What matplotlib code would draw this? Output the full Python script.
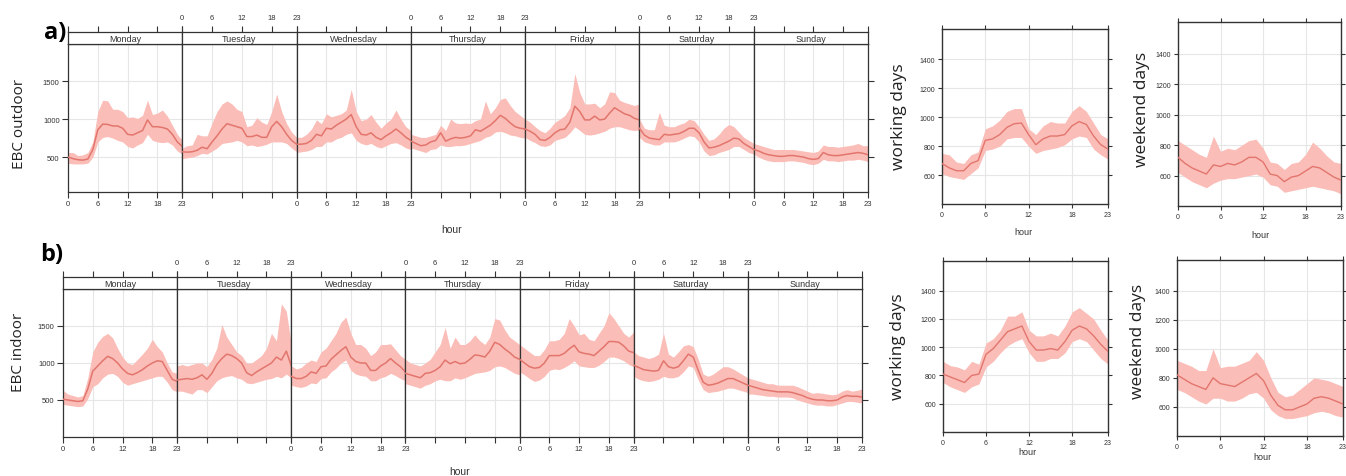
import numpy as np
import matplotlib
matplotlib.use("Agg")
import matplotlib.pyplot as plt

W, H = 1346, 477

DAYS = ["Monday", "Tuesday", "Wednesday", "Thursday", "Friday", "Saturday", "Sunday"]
HOURS = list(range(24))
HOUR_TICKS = [0, 6, 12, 18, 23]

# ---- a) EBC outdoor, week (mean / lower / upper, one row per day)
out_week_mean = [
    [500, 480, 465, 460, 475, 600, 860, 935, 930, 910, 910, 880, 800, 790, 820, 850, 990, 900, 900, 890, 870, 800, 700, 640],
    [570, 565, 570, 590, 630, 610, 700, 780, 870, 940, 920, 900, 880, 770, 770, 790, 760, 760, 900, 970, 900, 800, 720, 670],
    [670, 670, 680, 720, 800, 780, 880, 870, 920, 960, 1000, 1060, 900, 800, 790, 820, 760, 730, 780, 820, 870, 820, 760, 720],
    [710, 680, 650, 660, 700, 720, 820, 710, 740, 760, 750, 760, 780, 860, 840, 880, 920, 980, 1050, 1010, 950, 900, 880, 870],
    [870, 840, 800, 730, 720, 760, 820, 860, 870, 960, 1170, 1100, 990, 990, 1040, 990, 1000, 1080, 1150, 1110, 1070, 1050, 1010, 990],
    [880, 790, 750, 740, 730, 800, 790, 800, 810, 840, 880, 880, 820, 700, 620, 630, 650, 680, 710, 750, 740, 680, 640, 600],
    [600, 580, 550, 530, 520, 510, 510, 520, 520, 510, 500, 480, 470, 480, 560, 530, 520, 520, 530, 540, 550, 560, 550, 530],
]
out_week_lo = [
    [420, 410, 410, 410, 420, 500, 700, 760, 770, 750, 720, 700, 640, 620, 660, 690, 800, 720, 700, 690, 700, 660, 580, 540],
    [480, 490, 500, 520, 550, 540, 580, 620, 680, 690, 700, 720, 700, 650, 660, 640, 650, 670, 700, 700, 700, 680, 620, 570],
    [560, 570, 580, 600, 640, 640, 700, 700, 740, 760, 800, 820, 720, 680, 660, 680, 640, 620, 650, 680, 690, 660, 620, 600],
    [620, 600, 580, 560, 600, 610, 660, 640, 640, 650, 650, 660, 680, 700, 720, 760, 780, 830, 840, 820, 790, 780, 760, 750],
    [760, 720, 690, 650, 640, 660, 720, 740, 760, 820, 900, 850, 800, 790, 800, 820, 840, 880, 900, 900, 880, 860, 850, 860],
    [760, 700, 680, 660, 660, 700, 700, 700, 720, 750, 780, 770, 700, 580, 520, 530, 560, 580, 600, 640, 640, 600, 560, 540],
    [540, 500, 470, 450, 440, 440, 440, 450, 450, 440, 430, 410, 400, 420, 470, 450, 450, 440, 450, 460, 460, 470, 460, 440],
]
out_week_hi = [
    [560, 560, 520, 530, 560, 700, 1100, 1250, 1240, 1130, 1130, 1100, 1020, 1030, 1010, 1050, 1250, 1060, 1080, 1120, 1040, 920, 800, 720],
    [620, 650, 660, 800, 780, 780, 950, 1100, 1200, 1240, 1200, 1130, 1100, 900, 920, 1020, 960, 930, 1100, 1330, 1100, 940, 830, 760],
    [760, 760, 800, 870, 990, 940, 1070, 1030, 1050, 1070, 1120, 1390, 1100, 980, 1000, 1060, 960, 880, 950, 1000, 1120, 1000, 900, 850],
    [800, 780, 760, 760, 780, 800, 920, 850, 1000, 950, 940, 950, 940, 980, 1000, 1240, 1070, 1150, 1260, 1280, 1180, 1100, 1050, 1000],
    [1000, 960, 900, 850, 820, 880, 960, 1000, 1050, 1150, 1600, 1350, 1200, 1200, 1210, 1150, 1200, 1360, 1350, 1250, 1220, 1200, 1180, 1200],
    [1000, 880, 860, 860, 1090, 920, 900, 900, 930, 950, 1000, 980, 900, 800, 720, 740, 800, 880, 930, 900, 830, 760, 720, 680],
    [680, 660, 640, 620, 600, 600, 600, 600, 600, 590, 580, 570, 560, 580, 660, 640, 640, 630, 640, 650, 660, 680, 650, 650],
]

# ---- b) EBC indoor, week
in_week_mean = [
    [510, 500, 490, 480, 490, 650, 890, 960, 1030, 1090, 1060, 1000, 920, 860, 840, 870, 910, 960, 1000, 1030, 1020, 900, 780, 750],
    [770, 780, 790, 780, 800, 840, 780, 860, 980, 1060, 1120, 1100, 1060, 1000, 870, 830, 880, 920, 960, 1000, 1080, 1040, 1160, 960],
    [820, 790, 790, 820, 880, 860, 950, 960, 1050, 1110, 1170, 1220, 1080, 1020, 1000, 1000, 900, 900, 960, 1000, 1060, 1000, 950, 880],
    [860, 840, 820, 800, 860, 870, 900, 950, 1040, 990, 1020, 990, 1000, 1050, 1110, 1100, 1080, 1160, 1280, 1250, 1190, 1140, 1080, 1050],
    [1050, 1000, 950, 930, 940, 1000, 1100, 1100, 1100, 1130, 1190, 1240, 1150, 1130, 1120, 1100, 1160, 1220, 1290, 1290, 1280, 1230, 1160, 1140],
    [970, 940, 910, 900, 890, 900, 1030, 950, 930, 950, 1030, 1120, 1080, 900, 740, 700, 710, 730, 760, 790, 790, 760, 730, 700],
    [700, 680, 660, 640, 630, 620, 610, 610, 610, 600, 580, 560, 530, 510, 500, 500, 490, 490, 500, 540, 560, 550, 550, 540],
]
in_week_lo = [
    [440, 430, 420, 410, 420, 520, 680, 720, 800, 850, 860, 820, 740, 700, 720, 740, 760, 780, 800, 820, 820, 740, 640, 610],
    [620, 620, 600, 580, 640, 640, 600, 680, 760, 800, 820, 830, 800, 780, 730, 720, 740, 760, 780, 790, 820, 800, 850, 800],
    [700, 680, 670, 690, 730, 720, 790, 800, 880, 930, 1000, 1040, 900, 850, 830, 820, 760, 760, 800, 820, 860, 830, 790, 760],
    [720, 700, 680, 660, 700, 720, 760, 780, 760, 760, 800, 780, 800, 830, 860, 870, 880, 900, 950, 960, 940, 900, 860, 840],
    [880, 840, 790, 750, 770, 820, 900, 920, 910, 940, 980, 1030, 960, 950, 940, 940, 970, 1020, 1080, 1080, 1060, 1030, 980, 950],
    [820, 780, 760, 750, 760, 780, 820, 800, 800, 820, 880, 960, 940, 770, 640, 600, 610, 620, 640, 660, 660, 640, 620, 600],
    [580, 580, 570, 560, 550, 550, 540, 540, 540, 530, 500, 480, 460, 440, 430, 430, 420, 420, 440, 460, 480, 480, 470, 460],
]
in_week_hi = [
    [630, 580, 560, 540, 560, 800, 1150, 1280, 1360, 1400, 1340, 1200, 1080, 1000, 980, 1050, 1120, 1200, 1320, 1220, 1150, 1000, 880, 860],
    [960, 980, 960, 980, 1000, 1000, 950, 1050, 1200, 1520, 1350, 1250, 1150, 1100, 1000, 1000, 1050, 1100, 1200, 1400, 1300, 1800, 1700, 1250],
    [960, 920, 940, 1000, 1040, 1020, 1150, 1200, 1300, 1400, 1550, 1620, 1400, 1250, 1250, 1200, 1100, 1150, 1250, 1250, 1260, 1180, 1100, 1050],
    [1050, 1000, 980, 960, 1000, 1050, 1150, 1250, 1480, 1200, 1350, 1250, 1250, 1300, 1380, 1300, 1250, 1350, 1600, 1580, 1450, 1350, 1300, 1250],
    [1250, 1200, 1150, 1100, 1100, 1180, 1300, 1300, 1320, 1400, 1600, 1500, 1380, 1400, 1320, 1300, 1400, 1500, 1680, 1600, 1500, 1400, 1350, 1420],
    [1150, 1100, 1080, 1060, 1080, 1120, 1400, 1120, 1080, 1150, 1230, 1250, 1220, 1050, 850, 820, 850, 900, 950, 950, 920, 880, 840, 800],
    [800, 780, 760, 740, 720, 720, 700, 700, 700, 700, 680, 650, 620, 590, 600, 590, 580, 570, 580, 620, 640, 620, 630, 650],
]

# ---- working / weekend days (hourly)
out_work_mean = [680, 650, 630, 630, 680, 700, 840, 850, 880, 930, 955, 960, 880, 810, 850, 870, 870, 880, 940, 970, 950, 870, 810, 780]
out_work_lo = [610, 590, 580, 570, 610, 650, 770, 780, 800, 850, 860, 860, 800, 750, 770, 780, 790, 810, 850, 870, 860, 780, 740, 710]
out_work_hi = [750, 740, 690, 680, 740, 760, 920, 940, 980, 1040, 1060, 1060, 920, 880, 940, 970, 960, 960, 1040, 1080, 1040, 960, 880, 850]
out_wend_mean = [720, 680, 650, 630, 610, 670, 660, 680, 670, 690, 720, 720, 690, 610, 600, 560, 590, 600, 630, 660, 650, 620, 590, 570]
out_wend_lo = [620, 590, 560, 540, 520, 550, 570, 580, 580, 590, 600, 610, 590, 540, 530, 490, 500, 510, 520, 530, 520, 510, 500, 480]
out_wend_hi = [830, 800, 770, 740, 720, 860, 760, 780, 770, 800, 830, 840, 780, 690, 680, 640, 680, 690, 740, 820, 780, 730, 690, 680]

in_work_mean = [810, 790, 770, 750, 800, 810, 950, 990, 1050, 1110, 1130, 1150, 1040, 980, 980, 990, 980, 1040, 1120, 1150, 1130, 1080, 1020, 970]
in_work_lo = [750, 720, 700, 680, 720, 740, 860, 900, 960, 1010, 1040, 1060, 960, 900, 900, 920, 920, 960, 1040, 1060, 1040, 980, 920, 880]
in_work_hi = [900, 870, 860, 840, 900, 880, 1030, 1060, 1120, 1220, 1220, 1250, 1120, 1080, 1080, 1100, 1080, 1150, 1250, 1280, 1240, 1200, 1120, 1050]
in_wend_mean = [820, 790, 760, 740, 720, 800, 760, 750, 740, 770, 800, 830, 780, 680, 610, 580, 580, 600, 620, 660, 670, 660, 640, 620]
in_wend_lo = [720, 700, 670, 640, 620, 660, 660, 640, 640, 660, 690, 700, 660, 580, 540, 520, 520, 530, 540, 560, 570, 560, 540, 530]
in_wend_hi = [920, 900, 880, 850, 850, 1000, 870, 880, 880, 900, 920, 980, 920, 800, 700, 670, 680, 720, 760, 800, 790, 780, 760, 740]

FILL = "#FBBDB7"
LINE = "#E2766E"
GRID = "#E6E6E6"
SPINE = "#333333"
TXT = "#333333"
TICKFONT = "Liberation Sans"
LABFONT = "Open Sans"


def box(x0, y0, x1, y1):
    # pixel box (top-left origin) -> figure fraction rect
    return [x0 / W, 1 - y1 / H, (x1 - x0) / W, (y1 - y0) / H]


def style_spines(ax, lw=0.9):
    for s in ax.spines.values():
        s.set_color(SPINE)
        s.set_linewidth(lw)


def draw_week(fig, x0, x1, y_strip, y_top, y_bot, mean, lo, hi, ylim):
    dw = (x1 - x0) / 7
    for i, day in enumerate(DAYS):
        ax = fig.add_axes(box(x0 + i * dw, y_top, x0 + (i + 1) * dw, y_bot))
        ax.fill_between(HOURS, lo[i], hi[i], color=FILL, lw=0, zorder=2)
        ax.plot(HOURS, mean[i], color=LINE, lw=1.1, zorder=3)
        ax.set_xlim(0, 23)
        ax.set_ylim(*ylim)
        ax.set_xticks(HOUR_TICKS)
        ax.set_yticks([500, 1000, 1500])
        ax.grid(color=GRID, lw=0.8, zorder=0)
        ax.set_axisbelow(True)
        style_spines(ax)
        ax.tick_params(direction="out", length=4, width=0.8, color=SPINE,
                       labelsize=5.5, labelcolor=TXT, pad=2,
                       left=(i == 0), labelleft=(i == 0),
                       right=(i == 6), labelright=False,
                       labelbottom=(i % 2 == 0))
        for t in ax.get_xticklabels() + ax.get_yticklabels():
            t.set_family(TICKFONT)

        sax = fig.add_axes(box(x0 + i * dw, y_strip, x0 + (i + 1) * dw, y_top))
        sax.set_xlim(0, 23)
        sax.set_ylim(0, 1)
        sax.set_yticks([])
        sax.set_xticks(HOUR_TICKS)
        sax.xaxis.tick_top()
        sax.tick_params(direction="out", length=4, width=0.8, color=SPINE,
                        labelsize=5.5, labelcolor=TXT, pad=4,
                        labeltop=(i % 2 == 1), bottom=False, labelbottom=False)
        for t in sax.get_xticklabels():
            t.set_family(TICKFONT)
        style_spines(sax)
        sax.text(11.5, 0.45, day, ha="center", va="center", fontsize=6.5,
                 family=TICKFONT, color=TXT)


def draw_small(fig, rect, mean, lo, hi):
    ax = fig.add_axes(box(*rect))
    ax.fill_between(HOURS, lo, hi, color=FILL, lw=0, zorder=2)
    ax.plot(HOURS, mean, color=LINE, lw=1.0, zorder=3)
    ax.set_xlim(0, 23)
    ax.set_ylim(400, 1610)
    ax.set_xticks(HOUR_TICKS)
    ax.set_yticks([600, 800, 1000, 1200, 1400])
    ax.grid(color=GRID, lw=0.8, zorder=0)
    ax.set_axisbelow(True)
    style_spines(ax, lw=1.0)
    ax.tick_params(direction="out", length=3, width=0.8, color=SPINE,
                   labelsize=5, labelcolor=TXT, pad=2,
                   top=True, right=True)
    for t in ax.get_xticklabels() + ax.get_yticklabels():
        t.set_family(TICKFONT)
    return ax


fig = plt.figure(figsize=(W / 100, H / 100), dpi=100)

# weekly panels
draw_week(fig, 68, 868, 33, 45, 193, out_week_mean, out_week_lo, out_week_hi, (40, 1990))
draw_week(fig, 63, 862, 278, 290, 438, in_week_mean, in_week_lo, in_week_hi, (0, 2000))

# small panels
draw_small(fig, (942, 30, 1108, 205), out_work_mean, out_work_lo, out_work_hi)
draw_small(fig, (1178, 23, 1341, 207), out_wend_mean, out_wend_lo, out_wend_hi)
draw_small(fig, (943, 262, 1108, 433), in_work_mean, in_work_lo, in_work_hi)
draw_small(fig, (1177, 261, 1343, 437), in_wend_mean, in_wend_lo, in_wend_hi)


def ftext(x, y, s, **kw):
    fig.text(x / W, 1 - y / H, s, ha="center", va="center", **kw)


# panel tags and labels
ftext(55, 33, "a)", fontsize=17, fontweight="bold", family=LABFONT)
ftext(52, 255, "b)", fontsize=17, fontweight="bold", family=LABFONT)
ftext(20, 124, "EBC outdoor", fontsize=11, rotation=90, family=LABFONT, color="#222222")
ftext(19, 352, "EBC indoor", fontsize=11, rotation=90, family=LABFONT, color="#222222")
ftext(899, 117, "working days", fontsize=12.5, rotation=90, family=LABFONT, color="#222222")
ftext(1142, 109, "weekend days", fontsize=12.5, rotation=90, family=LABFONT, color="#222222")
ftext(898, 347, "working days", fontsize=12.5, rotation=90, family=LABFONT, color="#222222")
ftext(1138, 341, "weekend days", fontsize=12.5, rotation=90, family=LABFONT, color="#222222")

# hour labels
ftext(452, 230, "hour", fontsize=7.5, family=TICKFONT, color=TXT)
ftext(460, 472, "hour", fontsize=7.5, family=TICKFONT, color=TXT)
ftext(1023, 233, "hour", fontsize=6.5, family=TICKFONT, color=TXT)
ftext(1260, 235, "hour", fontsize=6.5, family=TICKFONT, color=TXT)
ftext(1027, 453, "hour", fontsize=6.5, family=TICKFONT, color=TXT)
ftext(1262, 458, "hour", fontsize=6.5, family=TICKFONT, color=TXT)

fig.savefig("out.png", dpi=100, facecolor="white")
